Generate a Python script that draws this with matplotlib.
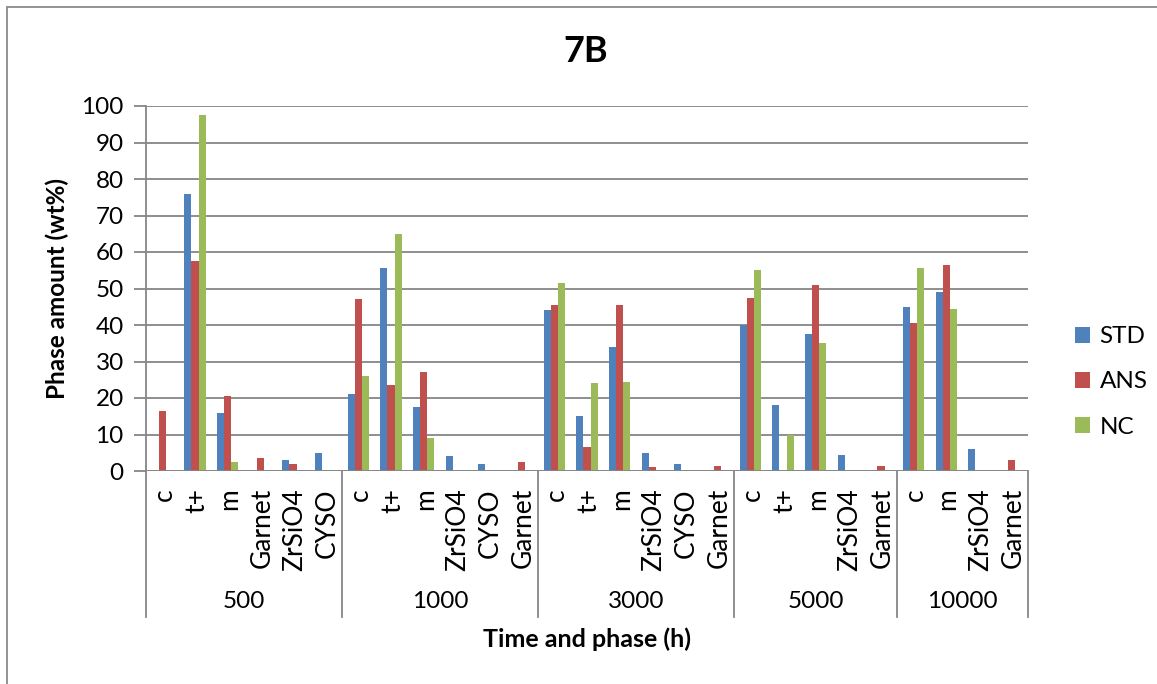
import numpy as np
import matplotlib
matplotlib.use("Agg")
import matplotlib.pyplot as plt
from matplotlib.patches import Patch, Rectangle
from matplotlib.lines import Line2D

plt.rcParams['font.family'] = ['Lato', 'DejaVu Sans']

# Time groups and the phases listed under each one
groups = ["500", "1000", "3000", "5000", "10000"]
phases_500 = ["c", "t+", "m", "Garnet", "ZrSiO4", "CYSO"]
phases_1000 = ["c", "t+", "m", "ZrSiO4", "CYSO", "Garnet"]
phases_3000 = ["c", "t+", "m", "ZrSiO4", "CYSO", "Garnet"]
phases_5000 = ["c", "t+", "m", "ZrSiO4", "Garnet"]
phases_10000 = ["c", "m", "ZrSiO4", "Garnet"]
group_phases = [phases_500, phases_1000, phases_3000, phases_5000, phases_10000]

# Phase amounts (wt%) per series, in the order of the categories above
std = [0, 76, 16, 0, 3, 5,
       21, 55.5, 17.5, 4, 2, 0,
       44, 15, 34, 5, 2, 0,
       40, 18, 37.5, 4.5, 0,
       45, 49, 6, 0]
ans = [16.5, 57.5, 20.5, 3.5, 2, 0,
       47, 23.5, 27, 0, 0, 2.5,
       45.5, 6.5, 45.5, 1, 0, 1.5,
       47.5, 0, 51, 0, 1.5,
       40.5, 56.5, 0, 3]
nc = [0, 97.5, 2.5, 0, 0, 0,
      26, 65, 9, 0, 0, 0,
      51.5, 24, 24.5, 0, 0, 0,
      55, 10, 35, 0, 0,
      55.5, 44.5, 0, 0]

series_names = ["STD", "ANS", "NC"]
series_values = [std, ans, nc]
colors = ["#4F81BD", "#C0504D", "#9BBB59"]

W, H = 1157, 684
fig = plt.figure(figsize=(W / 100, H / 100), dpi=100)
fig.patch.set_facecolor("white")

# chart frame (left and top edges visible)
fig.add_artist(Rectangle((7 / W, -0.1), 1.2, (H - 7) / H + 0.1, transform=fig.transFigure,
                         fill=False, edgecolor="#8a8a8a", linewidth=1.3))

ax_left, ax_right = 146 / W, 1028 / W
ax_bottom, ax_top = (H - 471) / H, (H - 106) / H
ax = fig.add_axes([ax_left, ax_bottom, ax_right - ax_left, ax_top - ax_bottom])

n_cat = len(std)
x = np.arange(n_cat)
bw = 0.22
for i, (vals, col, name) in enumerate(zip(series_values, colors, series_names)):
    ax.bar(x + (i - 1) * bw, vals, width=bw, color=col, edgecolor="none",
           label=name, zorder=3)

ax.set_xlim(-0.5, n_cat - 0.5)
ax.set_ylim(0, 100)
ax.set_yticks(np.arange(0, 101, 10))
ax.yaxis.grid(True, color="#868686", linewidth=1.3, zorder=0)
ax.set_axisbelow(True)
for s in ["top", "right", "bottom"]:
    ax.spines[s].set_visible(False)
ax.spines["left"].set_color("#868686")
ax.spines["left"].set_linewidth(1.3)
ax.axhline(0, color="#868686", linewidth=1.3, zorder=4)
ax.tick_params(axis="y", direction="out", length=9, width=1.3, color="#868686",
               labelsize=17.5, pad=7, labelcolor="black")
ax.set_xticks([])

ax.set_ylabel("Phase amount (wt%)", fontsize=17.5, fontweight="bold", labelpad=9)

# multi-level category axis
tr = ax.get_xaxis_transform()
ppx = 365.0  # axes height in pixels
y_phase = -(488 - 471) / ppx
y_group = -(602 - 471) / ppx
y_sep = -(617 - 471) / ppx

idx = 0
bounds = [-0.5]
for g, phases in zip(groups, group_phases):
    start = idx
    for p in phases:
        ax.text(idx + 0.05, y_phase, p, transform=tr, rotation=90, ha="center",
                va="top", fontsize=19)
        idx += 1
    ax.text((start + idx - 1) / 2, y_group, g, transform=tr, ha="center",
            va="center", fontsize=17.5)
    bounds.append(idx - 0.5)

for b in bounds:
    ax.add_line(Line2D([b, b], [0, y_sep], transform=tr, color="#868686",
                       linewidth=1.3, clip_on=False))

fig.text(587 / W, 1 - 639 / H, "Time and phase (h)", ha="center", va="center",
         fontsize=18, fontweight="bold")
fig.text(586 / W, 1 - 51 / H, "7B", ha="center", va="center",
         fontsize=26, fontweight="bold")

handles = [Patch(facecolor=c, edgecolor="none") for c in colors]
fig.legend(handles, series_names, loc="center left",
           bbox_to_anchor=(1065 / W, 1 - 382 / H), frameon=False, fontsize=17.5,
           handlelength=0.62, handleheight=0.62, handletextpad=0.4,
           labelspacing=1.0, borderaxespad=0)

fig.savefig("out.png", dpi=100, facecolor="white")
